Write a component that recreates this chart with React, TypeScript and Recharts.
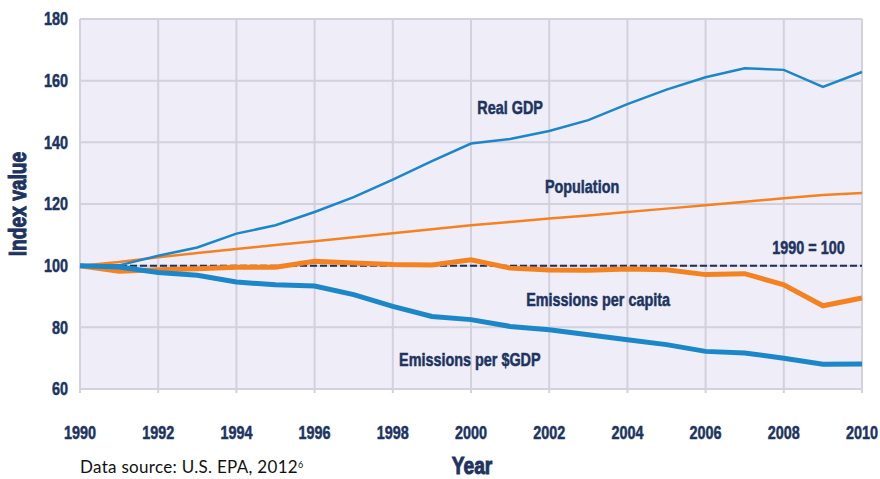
import React from 'react';
import { LineChart, Line, XAxis, YAxis, CartesianGrid, ReferenceLine, ReferenceDot, Label } from 'recharts';

const years = [1990, 1991, 1992, 1993, 1994, 1995, 1996, 1997, 1998, 1999, 2000, 2001, 2002, 2003, 2004, 2005, 2006, 2007, 2008, 2009, 2010];
const realGdp = [100, 100.1, 103.2, 105.9, 110.4, 113.1, 117.4, 122.2, 127.9, 133.9, 139.6, 141.1, 143.7, 147.2, 152.4, 157.1, 161.1, 164.0, 163.5, 158.0, 162.8];
const population = [100, 101.2, 102.7, 104.1, 105.4, 106.7, 107.9, 109.2, 110.5, 111.8, 113.1, 114.2, 115.3, 116.3, 117.4, 118.5, 119.6, 120.7, 121.9, 122.9, 123.6];
const emissionsPerCapita = [100, 98.2, 98.7, 99.0, 99.5, 99.5, 101.4, 100.9, 100.4, 100.2, 101.9, 99.2, 98.6, 98.5, 98.9, 98.7, 97.1, 97.4, 93.8, 87.0, 89.5];
const emissionsPerGdp = [100, 99.6, 97.8, 96.9, 94.7, 93.8, 93.4, 90.6, 86.8, 83.5, 82.5, 80.3, 79.2, 77.6, 76.0, 74.4, 72.2, 71.7, 70.0, 68.0, 68.1];

const xTicks = [1990, 1992, 1994, 1996, 1998, 2000, 2002, 2004, 2006, 2008, 2010];
const yTicks = [60, 80, 100, 120, 140, 160, 180];

const annotations = [
  { text: 'Real GDP', x: 2001.0, y: 151.4 },
  { text: 'Population', x: 2002.84, y: 125.55 },
  { text: '1990 = 100', x: 2008.63, y: 105.75 },
  { text: 'Emissions per capita', x: 2003.25, y: 88.96 },
  { text: 'Emissions per $GDP', x: 1999.97, y: 69.7 },
];

const data = years.map((year, i) => ({
  year,
  realGdp: realGdp[i],
  population: population[i],
  emissionsPerCapita: emissionsPerCapita[i],
  emissionsPerGdp: emissionsPerGdp[i],
}));

const NAVY = '#1d3461';
const BLUE = '#1b87c9';
const ORANGE = '#f58220';
const GRID = '#d3d1db';
const FONT = "'Liberation Sans', Arial, sans-serif";

// Condensed bold text centred vertically (cap-height centre) at (x, y)
function CText({ x, y, size, anchor = 'middle', rotate = 0, weight = 0.5, children }: any) {
  return (
    <text
      transform={`translate(${x},${y}) rotate(${rotate}) scale(0.8,1)`}
      x={0}
      y={size * 0.358}
      textAnchor={anchor}
      fill={NAVY}
      stroke={NAVY}
      strokeWidth={weight}
      fontSize={size}
      fontWeight={700}
      fontFamily={FONT}
    >
      {children}
    </text>
  );
}

const XTick = (p: any) => <CText x={p.x} y={p.y + 6} size={18}>{p.payload.value}</CText>;
const YTick = (p: any) => <CText x={p.x} y={p.y} size={18} anchor="end">{p.payload.value}</CText>;

const YearLabel = (p: any) => {
  const vb = p.viewBox;
  return <CText x={vb.x + vb.width / 2 + 1} y={vb.y + vb.height - 14} size={24} weight={1}>Year</CText>;
};
const IndexLabel = (p: any) => {
  const vb = p.viewBox;
  return <CText x={17} y={vb.y + vb.height / 2} size={24} rotate={-90} weight={1}>Index value</CText>;
};

const annotationLabel = (text: string) => (p: any) => {
  const vb = p.viewBox;
  return <CText x={vb.x + vb.width / 2} y={vb.y + vb.height / 2} size={18}>{text}</CText>;
};

export default function App() {
  return (
    <div style={{ position: 'absolute', left: 0, top: 0, width: 880, height: 479, background: '#ffffff' }}>
      <LineChart width={880} height={479} data={data} margin={{ top: 19, right: 18, left: 0, bottom: 0 }}>
        <CartesianGrid fill="#efedf7" stroke={GRID} strokeWidth={2} />
        <XAxis
          dataKey="year"
          type="number"
          domain={[1990, 2010]}
          ticks={xTicks}
          height={90}
          axisLine={false}
          tickLine={{ stroke: GRID, strokeWidth: 2 }}
          tickSize={4}
          tickMargin={34}
          tick={XTick}
        >
          <Label content={YearLabel} />
        </XAxis>
        <YAxis
          type="number"
          domain={[60, 180]}
          ticks={yTicks}
          width={80}
          axisLine={false}
          tickLine={false}
          tickSize={6}
          tickMargin={6}
          tick={YTick}
        >
          <Label content={IndexLabel} />
        </YAxis>
        <ReferenceLine y={100} stroke="#1f2f55" strokeWidth={2} strokeDasharray="7 3" />
        <Line dataKey="population" stroke={ORANGE} strokeWidth={2.5} dot={false} isAnimationActive={false} />
        <Line dataKey="realGdp" stroke={BLUE} strokeWidth={2.5} dot={false} isAnimationActive={false} />
        <Line dataKey="emissionsPerCapita" stroke={ORANGE} strokeWidth={5} dot={false} isAnimationActive={false} />
        <Line dataKey="emissionsPerGdp" stroke={BLUE} strokeWidth={5} dot={false} isAnimationActive={false} />
        {annotations.map((a) => (
          <ReferenceDot
            key={a.text}
            x={a.x}
            y={a.y}
            r={1}
            fill="none"
            stroke="none"
            label={annotationLabel(a.text)}
          />
        ))}
      </LineChart>
      <div
        style={{
          position: 'absolute',
          left: 80,
          top: 457,
          fontFamily: "Lato, 'Open Sans', sans-serif",
          fontSize: 17,
          letterSpacing: 0.3,
          lineHeight: '20px',
          color: '#111111',
          whiteSpace: 'nowrap',
        }}
      >
        Data source: U.S. EPA, 2012<sup style={{ fontSize: 9, verticalAlign: 'top', position: 'relative', top: -2 }}>6</sup>
      </div>
    </div>
  );
}
